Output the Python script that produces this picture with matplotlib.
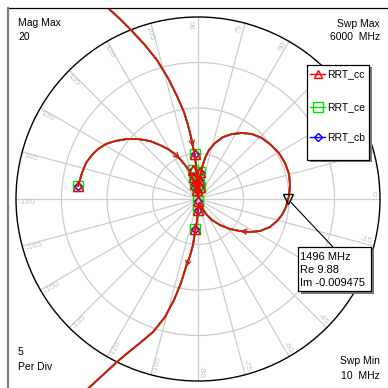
import numpy as np
import matplotlib
matplotlib.use("Agg")
import matplotlib.pyplot as plt
from matplotlib.patches import Rectangle, Circle
from matplotlib.lines import Line2D

plt.rcParams['font.family'] = ['Liberation Sans', 'DejaVu Sans']

# ---- chart settings -------------------------------------------------------
mag_max = 20
per_div = 5
swp_min_mhz = 10
swp_max_mhz = 6000
angle_ticks = list(range(-180, 180, 15))

# ---- trace data (Re, Im), swept 10 MHz -> 6000 MHz ------------------------
trace_re = [
    # left loop into the origin
    -13.19, -12.97, -12.75, -12.31, -11.65, -10.99, -10.11, -9.12, -7.80, -6.59,
    -5.27, -4.18, -3.30, -2.53, -1.98, -1.43, -0.88, -0.55, -0.33, -0.11,
    # resonance loop on the right
    0.00, 0.11, 0.22, 0.44, 0.77, 1.21, 1.87, 2.75, 3.74, 4.84,
    5.93, 7.03, 8.02, 8.90, 9.56, 10.00, 10.11, 10.00, 9.88, 9.67,
    9.23, 8.68, 7.91, 6.81, 5.71, 4.62, 3.52, 2.42, 1.54, 0.88,
    0.44, 0.11,
    # out towards the pole
    0.00, -0.11, -0.33, -0.55, -0.88, -1.32, -1.87, -2.64, -3.63, -4.95,
    -6.37, -7.47, -8.79, -10.22, -11.65, -12.97, -14.29,
    np.nan,
    # back in from the pole
    -12.97, -11.32, -9.89, -8.57, -7.47, -5.93, -4.51, -3.30, -2.31, -1.54,
    -1.10, -0.77, -0.55, -0.33, -0.22, -0.11, -0.11,
]
trace_im = [
    1.43, 2.09, 2.86, 3.96, 4.84, 5.49, 6.04, 6.37, 6.59, 6.59,
    6.37, 5.93, 5.49, 4.95, 4.40, 3.74, 2.97, 2.20, 1.43, 0.66,
    0.22, 1.21, 2.31, 3.41, 4.51, 5.38, 6.15, 6.81, 7.14, 7.25,
    7.14, 6.70, 5.93, 5.05, 3.96, 2.75, 1.54, 0.33, -0.009475, -0.88,
    -1.76, -2.42, -3.08, -3.52, -3.63, -3.52, -3.30, -2.86, -2.31, -1.65,
    -0.99, -0.44,
    -1.21, -2.42, -3.63, -5.05, -6.26, -7.47, -9.23, -11.10, -12.97, -14.62,
    -15.82, -16.70, -17.80, -19.12, -20.44, -21.65, -22.86,
    np.nan,
    24.62, 22.75, 20.99, 19.78, 18.68, 17.03, 15.27, 13.30, 11.32, 9.56,
    8.13, 6.81, 5.71, 4.73, 3.63, 2.53, 1.43,
]

# symbol points shown on the traces
sym_re = [-13.19, -0.33, -0.55, 0.22, -0.44, 0.11, -0.33, 0.22, -0.11,
          0.00, 0.00, -0.33]
sym_im = [1.43, 4.95, 3.19, 2.97, 2.42, 2.09, 1.65, 1.32, 0.99,
          -0.22, -1.21, -3.30]

series_names = ['RRT_cc', 'RRT_ce', 'RRT_cb']
series_colors = ['#ff0000', '#00e000', '#0000ff']
series_markers = ['^', 's', 'D']

# readout marker
marker_freq_mhz = 1496
marker_re = 9.88
marker_im = -0.009475

# direction arrows: index of the trace point each arrow points at
arrow_idx = [14, 45, 57, 82]

# ---- figure ----------------------------------------------------------------
PX = 9.1  # pixels per unit
fig = plt.figure(figsize=(3.88, 3.88), dpi=100)
ax = fig.add_axes([0, 0, 1, 1])
ax.set_xlim(-198 / PX, 190 / PX)
ax.set_ylim(-189 / PX, 199 / PX)
ax.set_aspect('equal')
ax.axis('off')

grid_c = '#cccccc'
# rings
for r in range(per_div, mag_max, per_div):
    ax.add_patch(Circle((0, 0), r, fill=False, ec=grid_c, lw=0.9, zorder=1))
# spokes
for a in angle_ticks:
    t = np.deg2rad(a)
    ax.plot([0, mag_max * np.cos(t)], [0, mag_max * np.sin(t)],
            color=grid_c, lw=0.9, zorder=1)
ax.add_patch(Circle((0, 0), mag_max, fill=False, ec='black', lw=1.0, zorder=2))

# angle labels along the rim
r_lab = mag_max * 0.985
for a in angle_ticks:
    t = np.deg2rad(a)
    x, y = r_lab * np.cos(t), r_lab * np.sin(t)
    if -90 <= a <= 90:
        rot, ha, va = a, 'right', 'bottom'
    else:
        rot, ha, va = (a - 180 if a > 0 else a + 180), 'left', 'top'
    ax.text(x, y, str(a), rotation=rot, rotation_mode='anchor', ha=ha, va=va,
            fontsize=6, color='#c4c4c4', zorder=2)

# frame
frame = Rectangle((-190 / PX, -191 / PX), 380 / PX, 382 / PX,
                  fill=False, ec='none', transform=ax.transData)
ax.add_patch(frame)
top_y = 191 / PX
left_x = -190 / PX
ax.plot([left_x, 200 / PX], [top_y, top_y], color='black', lw=0.9, zorder=6)
ax.plot([left_x, left_x], [top_y, -200 / PX], color='#808080', lw=1.6, zorder=6)

# traces: cb at the bottom, then ce, cc on top
tre = np.array(trace_re)
tim = np.array(trace_im)
draw_order = [2, 1, 0]
trace_lw = {0: 1.2, 1: 1.35, 2: 1.3}
for n, k in enumerate(draw_order):
    z = 3 + n
    ln, = ax.plot(tre, tim, color=series_colors[k], lw=trace_lw[k], zorder=z)
    ln.set_clip_path(frame)
    ms = {'^': 6.5, 's': 6.5, 'D': 4.5}[series_markers[k]]
    ax.plot(sym_re, sym_im, ls='none', marker=series_markers[k], ms=ms,
            mfc='none', mec=series_colors[k], mew=1.0, zorder=z + 0.5)

for i in arrow_idx:
    ax.annotate('', xy=(tre[i], tim[i]), xytext=(tre[i - 1], tim[i - 1]),
                arrowprops=dict(arrowstyle='->', color='#d81a0a', lw=1.0,
                                shrinkA=0, shrinkB=0, mutation_scale=9),
                zorder=6)

# readout marker and its box
ax.plot([marker_re], [marker_im], marker='v', ms=7, mfc='none', mec='black',
        mew=1.0, zorder=7)
bx0, by0 = 298 / 388, 1 - 291 / 388
bw, bh = 73 / 388, 44 / 388
sh = 2.5 / 388
ax.add_patch(Rectangle((bx0 + sh, by0 - sh), bw, bh, transform=ax.transAxes,
                       fc='#7a7a7a', ec='none', zorder=8))
ax.add_patch(Rectangle((bx0, by0), bw, bh, transform=ax.transAxes,
                       fc='white', ec='black', lw=0.9, zorder=9))
ax.annotate('', xy=(marker_re, marker_im), xytext=(333 / 388, 1 - 247 / 388),
            textcoords='axes fraction',
            arrowprops=dict(arrowstyle='-', color='black', lw=0.8,
                            shrinkA=0, shrinkB=3), zorder=7)
box_lines = [f'{marker_freq_mhz} MHz', f'Re {marker_re:.2f}', f'Im {marker_im}']
for j, s in enumerate(box_lines):
    ax.text(300 / 388, 1 - (257 + 13 * j) / 388, s, transform=ax.transAxes,
            ha='left', va='center', fontsize=8, zorder=10)

# legend box
lx0, ly0 = 307 / 388, 1 - 160 / 388
lw_, lh_ = 62 / 388, 95 / 388
ax.add_patch(Rectangle((lx0 + sh, ly0 - sh), lw_, lh_, transform=ax.transAxes,
                       fc='#7a7a7a', ec='none', zorder=8))
ax.add_patch(Rectangle((lx0, ly0), lw_, lh_, transform=ax.transAxes,
                       fc='white', ec='black', lw=0.9, zorder=9))
for k, yy in enumerate([74, 107, 137]):
    fy = 1 - yy / 388
    ms = {'^': 6, 's': 6.5, 'D': 4.5}[series_markers[k]]
    ax.add_line(Line2D([310 / 388, 325 / 388], [fy, fy], transform=ax.transAxes,
                       color=series_colors[k], lw=1.0, zorder=10))
    ax.plot([317.5 / 388], [fy], transform=ax.transAxes, marker=series_markers[k],
            ms=ms, mfc='none', mec=series_colors[k], mew=1.0, zorder=10)
    ax.text(327 / 388, fy, series_names[k], transform=ax.transAxes,
            ha='left', va='center', fontsize=7.5, zorder=10)

# corner annotations
fs = 7.5
ax.text(18 / 388, 1 - 23 / 388, 'Mag Max', transform=ax.transAxes, fontsize=fs,
        ha='left', va='center')
ax.text(18 / 388, 1 - 37 / 388, f'{mag_max}', transform=ax.transAxes, fontsize=fs,
        ha='left', va='center')
ax.text(380 / 388, 1 - 24 / 388, 'Swp Max', transform=ax.transAxes, fontsize=fs,
        ha='right', va='center')
ax.text(380 / 388, 1 - 37 / 388, f'{swp_max_mhz}  MHz', transform=ax.transAxes,
        fontsize=fs, ha='right', va='center')
ax.text(18 / 388, 1 - 352 / 388, f'{per_div}', transform=ax.transAxes, fontsize=fs,
        ha='left', va='center')
ax.text(18 / 388, 1 - 367 / 388, 'Per Div', transform=ax.transAxes, fontsize=fs,
        ha='left', va='center')
ax.text(380 / 388, 1 - 361 / 388, 'Swp Min', transform=ax.transAxes, fontsize=fs,
        ha='right', va='center')
ax.text(380 / 388, 1 - 376 / 388, f'{swp_min_mhz}  MHz', transform=ax.transAxes,
        fontsize=fs, ha='right', va='center')

fig.savefig('out.png', dpi=100)
